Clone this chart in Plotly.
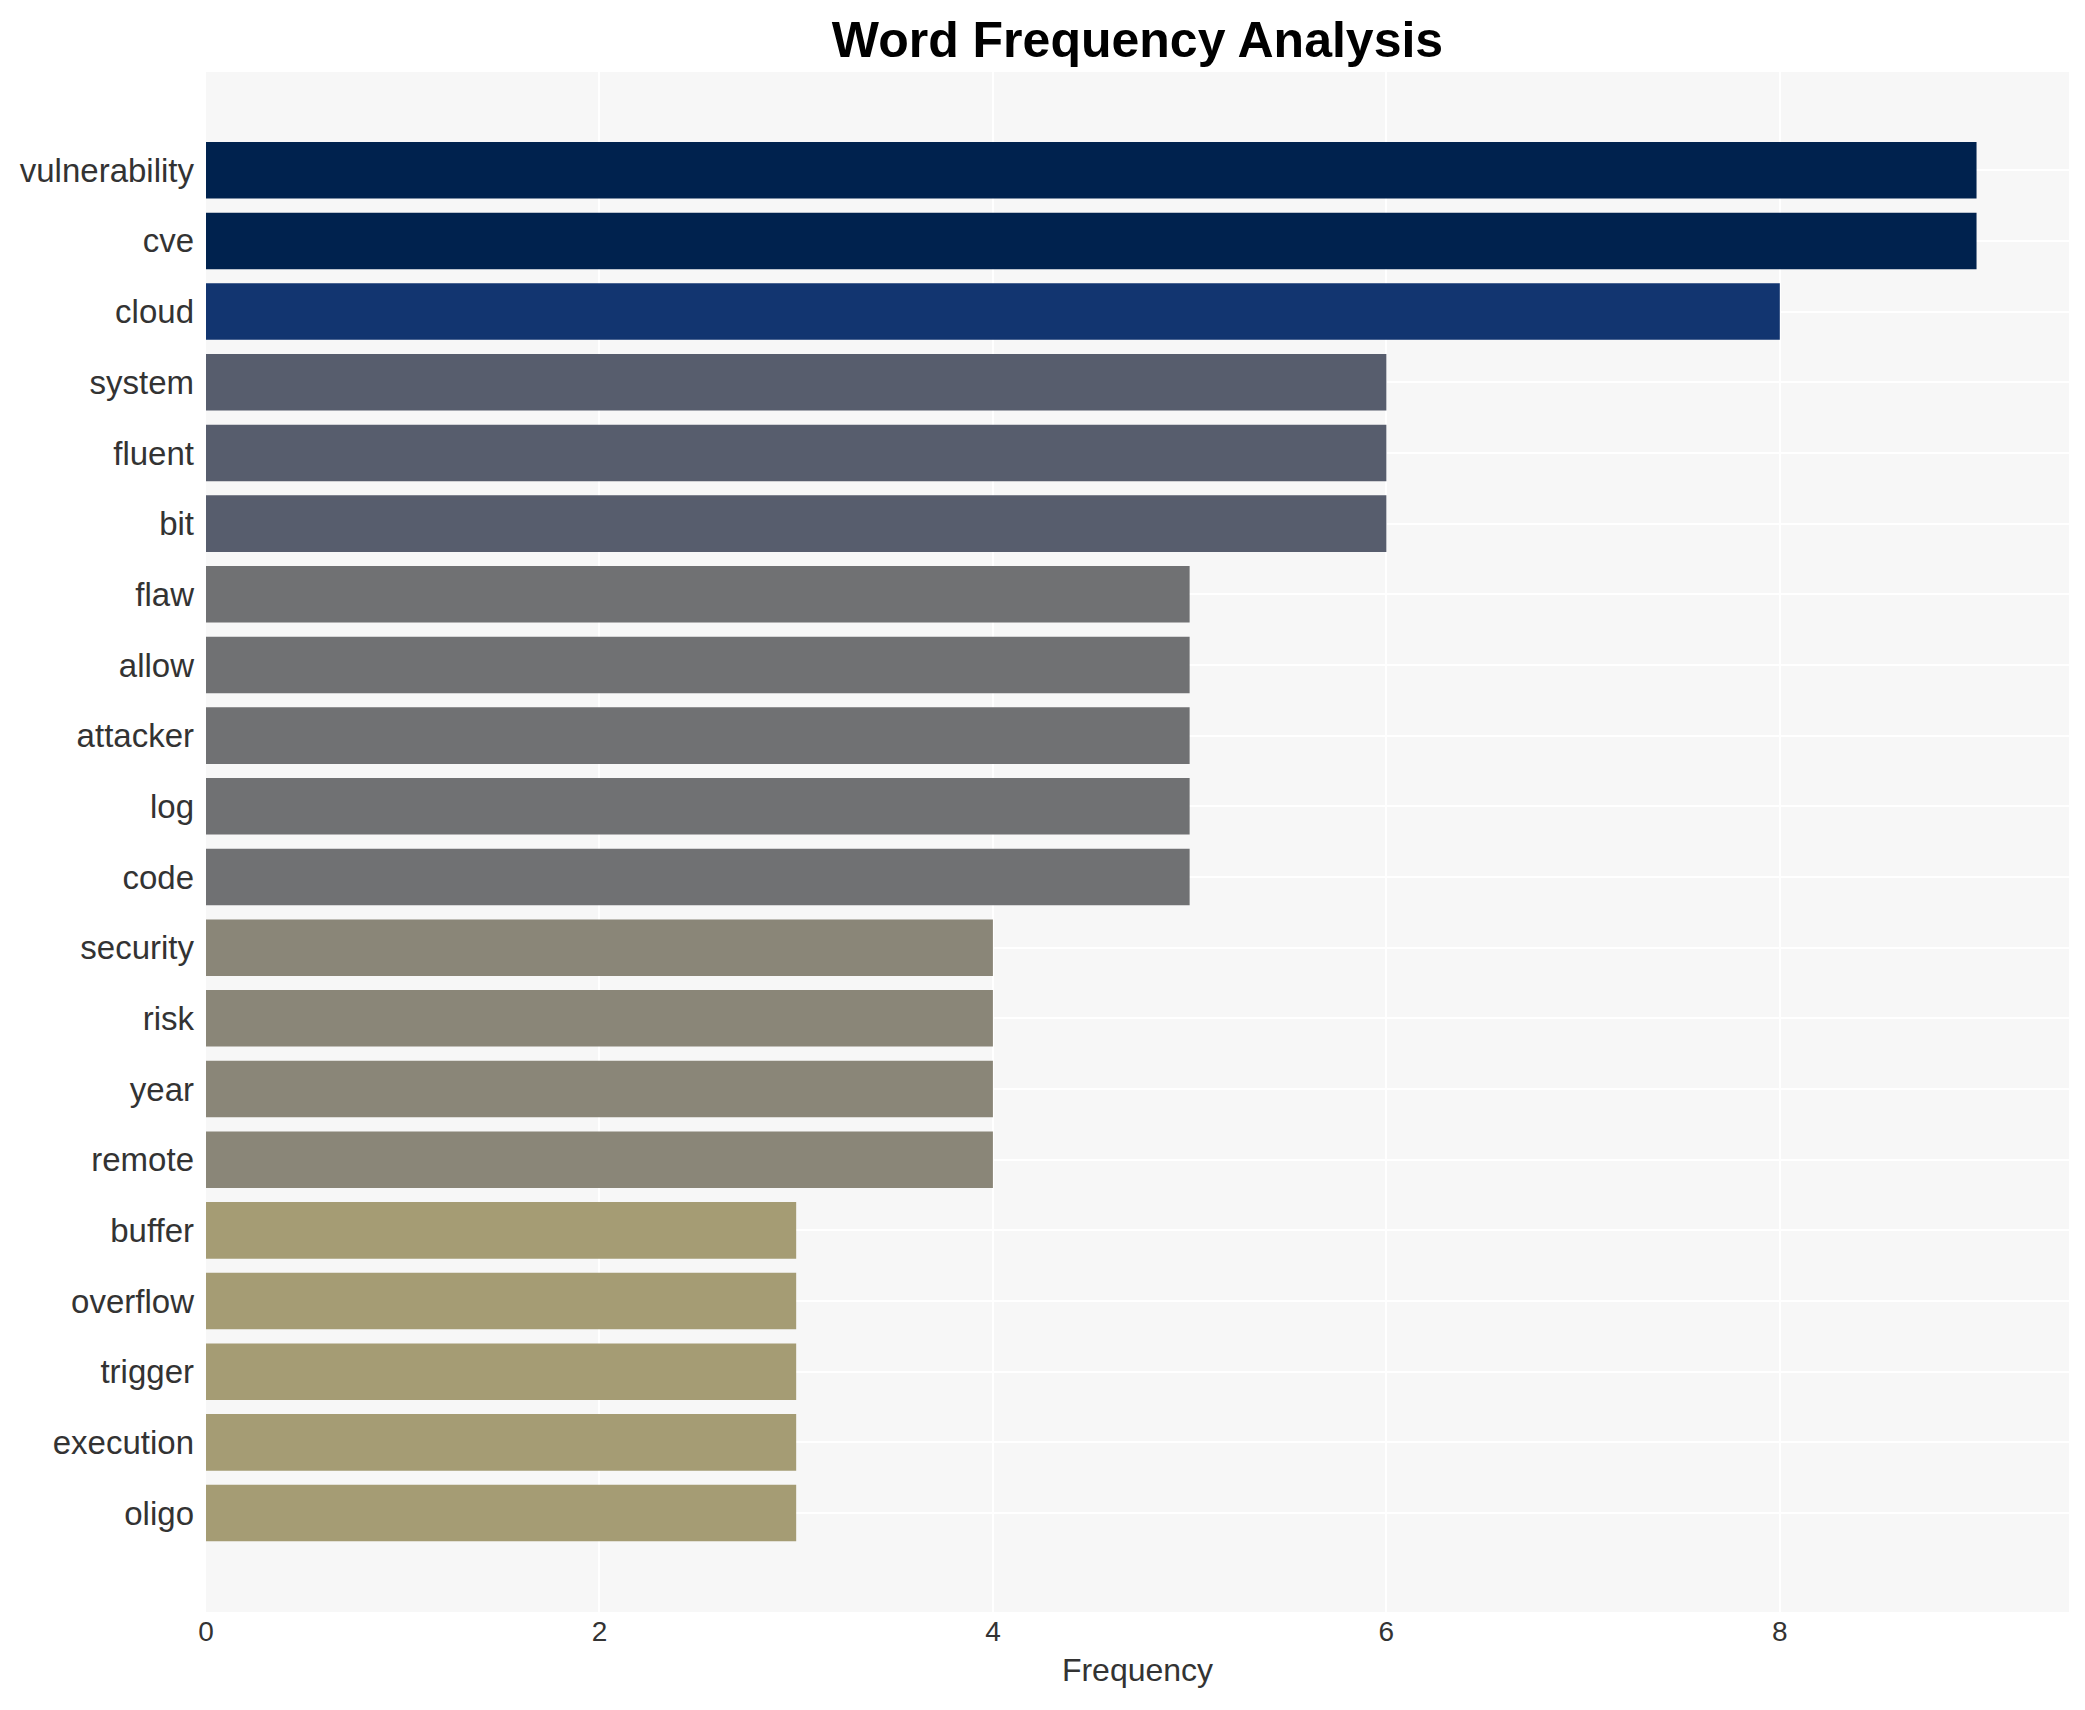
import plotly.graph_objects as go

words = ["vulnerability", "cve", "cloud", "system", "fluent", "bit", "flaw", "allow",
         "attacker", "log", "code", "security", "risk", "year", "remote", "buffer",
         "overflow", "trigger", "execution", "oligo"]
counts = [9, 9, 8, 6, 6, 6, 5, 5, 5, 5, 5, 4, 4, 4, 4, 3, 3, 3, 3, 3]
x_ticks = [0, 2, 4, 6, 8]

FONT = "Liberation Sans, Arial, sans-serif"

fig = go.Figure(go.Bar(
    x=counts,
    y=words,
    orientation="h",
    width=0.8,
    marker=dict(color=counts, colorscale="cividis", reversescale=True, cmin=0, cmax=9,
                line=dict(width=0)),
    showlegend=False,
))

fig.update_layout(
    width=2069,
    height=1694,
    margin=dict(l=198, r=8, t=64, b=90),
    paper_bgcolor="white",
    plot_bgcolor="#f7f7f7",
    font=dict(family=FONT, color="#333"),
    title=dict(text="<b>Word Frequency Analysis</b>", x=0.5, xref="paper", xanchor="center",
               y=1 - 31 / 1694, yanchor="middle", yref="container",
               font=dict(family=FONT, size=50, color="black")),
    xaxis=dict(range=[0, 9.47], tickvals=x_ticks, showgrid=True, gridcolor="white",
               gridwidth=2, zeroline=False, showline=False,
               tickfont=dict(size=28, color="#333"), ticks="",
               title=dict(text="Frequency", font=dict(size=32, color="#333"), standoff=12)),
    yaxis=dict(range=[20.4, -1.39], showgrid=True, gridcolor="white", gridwidth=2,
               zeroline=False, showline=False, ticks="", ticklabelstandoff=11,
               tickfont=dict(size=33, color="#333")),
)

fig.write_html("out.html")
